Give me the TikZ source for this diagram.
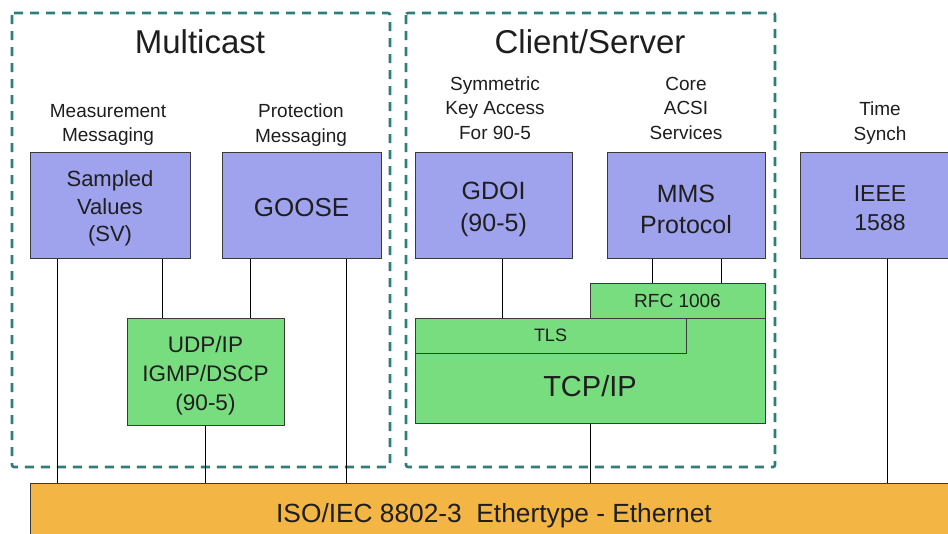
\documentclass[tikz,border=0pt]{standalone}
\usepackage{fontspec}
\setmainfont{Liberation Sans}
\definecolor{pur}{HTML}{9FA3EE}
\definecolor{grn}{HTML}{77DD7F}
\definecolor{org}{HTML}{F3B544}
\definecolor{teal2}{HTML}{2F7E77}
\definecolor{edge}{HTML}{3A3A3A}
\definecolor{txt}{HTML}{1E1E1E}
\tikzset{
  box/.style={draw=edge, line width=1pt, inner sep=0pt, align=center, text=txt},
  pbox/.style={box, fill=pur, minimum width=158pt, minimum height=106pt},
  gbox/.style={box, fill=grn},
  btxt/.style={align=center, text=txt, inner sep=0pt},
  grp/.style={draw=teal2, line width=2.6pt, dash pattern=on 9pt off 7pt, rounded corners=2pt},
  lbl/.style={align=center, text=txt, inner sep=0pt, font=\fontsize{19}{24.5}\selectfont},
  head/.style={text=txt, inner sep=0pt, font=\fontsize{33}{36}\selectfont},
  conn/.style={draw=black, line width=1pt}
}
\begin{document}
\begin{tikzpicture}[x=1pt,y=-1pt]
\useasboundingbox (0,0) rectangle (948,533);
\clip (0,0) rectangle (948,533);
\fill[white] (0,0) rectangle (948,533);
% group boxes
\draw[grp] (12,13) rectangle (390,467);
\draw[grp] (406,13) rectangle (775,467);
\node[head] (hmc) at (200,41.5) {Multicast};
\node[head] (hcs) at (590,41.5) {Client/Server};
% labels
\node[lbl] (l1) at (108,125) {Measurement\\Messaging};
\node[lbl] (l2) at (301,125) {Protection\\Messaging};
\node[lbl] (l3) at (495,108) {Symmetric\\Key Access\\For 90-5};
\node[lbl] (l4) at (686,108) {Core\\ACSI\\Services};
\node[lbl] (l5) at (880,123) {Time\\Synch};
% purple boxes
\node[pbox, minimum width=160pt] (sv) at (110,205) {};
\node[btxt, font=\fontsize{22}{27.5}\selectfont] (svt) at ([yshift=-3.5pt]sv.center) {Sampled\\Values\\(SV)};
\node[pbox, minimum width=159pt] (goose) at (301.5,205) {};
\node[btxt, font=\fontsize{26}{30}\selectfont] (gooset) at ([yshift=-3pt]goose.center) {GOOSE};
\node[pbox, minimum width=157pt] (gdoi) at (493.5,205) {};
\node[btxt, font=\fontsize{25}{31.5}\selectfont] (gdoit) at ([yshift=-4.5pt]gdoi.center) {GDOI\\(90-5)};
\node[pbox, minimum width=158pt] (mms) at (686,205) {};
\node[btxt, font=\fontsize{25}{31.5}\selectfont] (mmst) at ([yshift=-4.5pt]mms.center) {MMS\\Protocol};
\node[pbox, minimum width=160pt] (ieee) at (880,205) {};
\node[btxt, font=\fontsize{23}{29}\selectfont] (ieeet) at ([yshift=-3.5pt]ieee.center) {IEEE\\1588};
% green boxes
\node[gbox, minimum width=157pt, minimum height=107pt] (udp) at (205.5,371.5) {};
\node[btxt, font=\fontsize{22.5}{29}\selectfont] (udpt) at ([yshift=-4.5pt]udp.center) {UDP/IP\\IGMP/DSCP\\(90-5)};
\node[gbox, minimum width=350pt, minimum height=105pt] (tcp) at (590,370.5) {};
\node[btxt, font=\fontsize{29}{32}\selectfont] (tcpt) at (590,386) {TCP/IP};
\node[gbox, minimum width=271pt, minimum height=35pt, font=\fontsize{18}{20}\selectfont] (tls) at (550.5,335.5) {TLS};
\node[gbox, minimum width=175pt, minimum height=35pt, font=\fontsize{19}{21}\selectfont] (rfc) at (677.5,300.5) {RFC 1006};
% ethernet
\node[box, fill=org, minimum width=928pt, minimum height=60pt] (eth) at (494,513) {};
\node[btxt, font=\fontsize{26.3}{28}\selectfont] (etht) at ([yshift=-3pt]eth.center) {ISO/IEC 8802-3\ \ Ethertype - Ethernet};
% connectors
\draw[conn] (sv.south -| 57,0) -- (eth.north -| 57,0);
\draw[conn] (sv.south -| 162,0) -- (udp.north -| 162,0);
\draw[conn] (goose.south -| 250,0) -- (udp.north -| 250,0);
\draw[conn] (goose.south -| 346,0) -- (eth.north -| 346,0);
\draw[conn] (udp.south) -- (eth.north -| udp.south);
\draw[conn] (gdoi.south -| 502,0) -- (tls.north -| 502,0);
\draw[conn] (mms.south -| 652,0) -- (rfc.north -| 652,0);
\draw[conn] (mms.south -| 721,0) -- (rfc.north -| 721,0);
\draw[conn] (tcp.south) -- (eth.north -| tcp.south);
\draw[conn] (ieee.south -| 887,0) -- (eth.north -| 887,0);
\end{tikzpicture}
\end{document}
